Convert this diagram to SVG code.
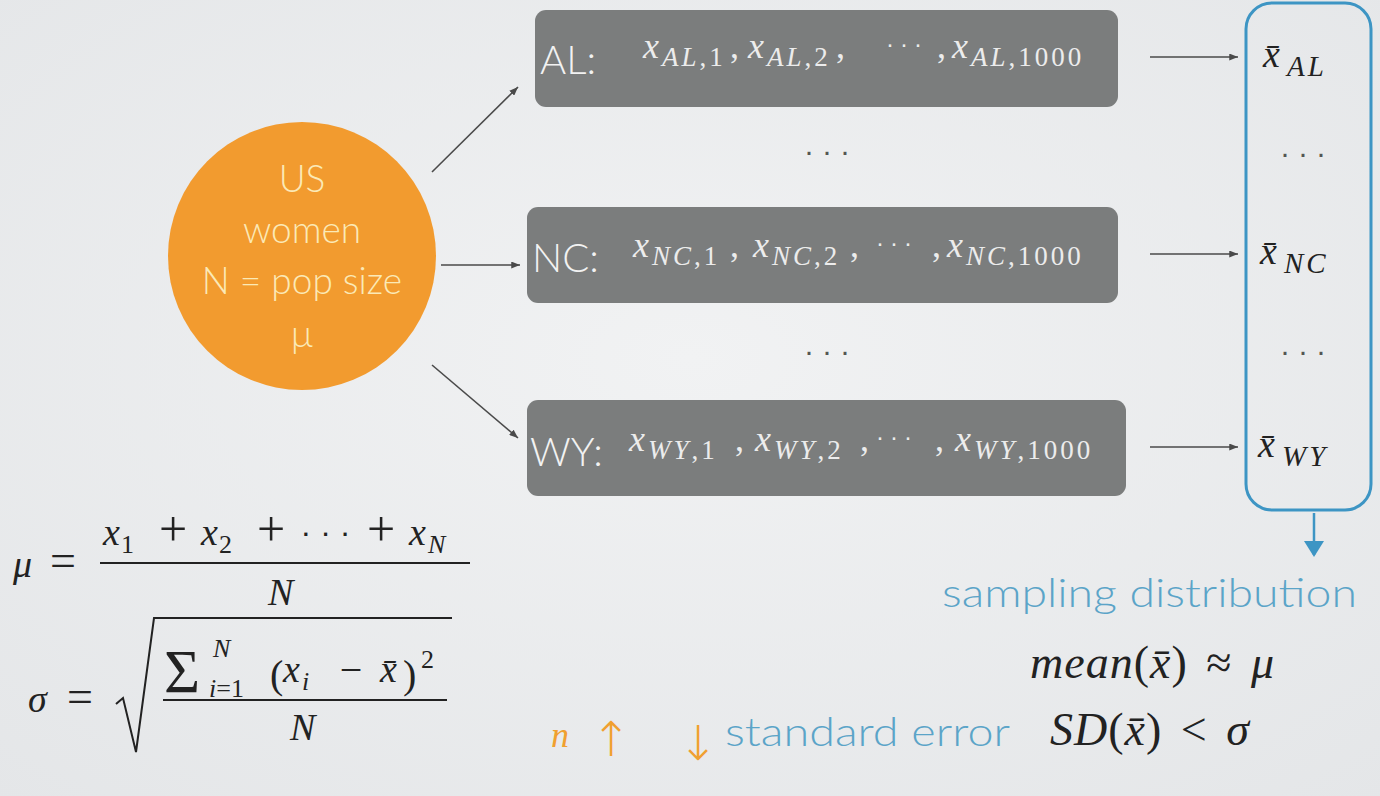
<svg xmlns="http://www.w3.org/2000/svg" width="1380" height="796" viewBox="0 0 1380 796">
<defs>
<radialGradient id="bg" cx="0.5" cy="0.45" r="0.75">
<stop offset="0" stop-color="#f1f2f3"/>
<stop offset="1" stop-color="#e4e6e8"/>
</radialGradient>
<marker id="ah" viewBox="0 0 10 8" refX="10" refY="4" markerWidth="9" markerHeight="7" markerUnits="userSpaceOnUse" orient="auto">
<path d="M0,0 L10,4 L0,8 z" fill="#4a4a4a"/>
</marker>
<marker id="bh" viewBox="0 0 16 20" refX="14" refY="10" markerWidth="16" markerHeight="20" markerUnits="userSpaceOnUse" orient="auto">
<path d="M0,0 L16,10 L0,20 z" fill="#3d95c4"/>
</marker>
</defs>
<style>
.box{fill:#7b7d7d}
.lbl{font-family:Lato,"Open Sans",sans-serif;font-weight:300;font-size:40px;fill:#f2f2f2}
.bx{font-family:"Liberation Serif",serif;font-style:italic;font-size:36px;fill:#ececec}
.bs{font-size:27px;letter-spacing:3px}
.up{font-style:normal}
.ct{font-family:Lato,"Open Sans",sans-serif;font-weight:300;font-size:37px;fill:#fbe9b6;text-anchor:middle}
.m{font-family:"Liberation Serif",serif;font-style:italic;font-size:38px;fill:#222}
.mu{font-family:"Liberation Serif",serif;font-style:normal;fill:#222}
.ms{font-size:26px}
.rs{font-size:29px;letter-spacing:3px}
.sum{font-size:46px;letter-spacing:1px;word-spacing:6px}
.dots{font-family:"Liberation Sans",sans-serif;font-size:30px;letter-spacing:8px;fill:#555;text-anchor:middle}
.bd{font-family:"Liberation Sans",sans-serif;font-style:normal;font-size:24px;letter-spacing:6px}
.blue{font-family:Lato,"Open Sans",sans-serif;font-weight:300;font-size:40px;fill:#5ba4c8}
.conn{stroke:#4a4a4a;stroke-width:1.6;fill:none;marker-end:url(#ah)}
</style>
<rect width="1380" height="796" fill="url(#bg)"/>

<g id="population">
<circle cx="302" cy="256" r="134" fill="#f29b2f"/>
<text class="ct" x="302" y="192">US</text>
<text class="ct" x="302" y="243">women</text>
<text class="ct" x="302" y="294">N = pop size</text>
<text class="ct" x="302" y="347" font-weight="400">μ</text>
</g>

<g id="sample-AL">
<rect class="box" x="535" y="10" width="583" height="97" rx="11"/>
<text class="lbl" x="540" y="74">AL:</text>
<text class="bx"><tspan x="643" y="58">x</tspan><tspan class="bs" x="662" y="66">AL<tspan class="up">,1</tspan></tspan><tspan class="up" x="730" y="58">,</tspan><tspan x="748" y="58">x</tspan><tspan class="bs" x="767" y="66">AL<tspan class="up">,2</tspan></tspan><tspan class="up" x="836" y="58">,</tspan><tspan class="bd" x="886" y="52">···</tspan><tspan class="up" x="937" y="58">,</tspan><tspan x="952" y="58">x</tspan><tspan class="bs" x="971" y="66">AL<tspan class="up">,1000</tspan></tspan></text>
</g>

<g id="sample-NC">
<rect class="box" x="527" y="207" width="591" height="96" rx="11"/>
<text class="lbl" x="532" y="272">NC:</text>
<text class="bx"><tspan x="633" y="257">x</tspan><tspan class="bs" x="652" y="265">NC<tspan class="up">,1</tspan></tspan><tspan class="up" x="730" y="257">,</tspan><tspan x="753" y="257">x</tspan><tspan class="bs" x="772" y="265">NC<tspan class="up">,2</tspan></tspan><tspan class="up" x="850" y="257">,</tspan><tspan class="bd" x="876" y="251">···</tspan><tspan class="up" x="932" y="257">,</tspan><tspan x="947" y="257">x</tspan><tspan class="bs" x="966" y="265">NC<tspan class="up">,1000</tspan></tspan></text>
</g>

<g id="sample-WY">
<rect class="box" x="527" y="400" width="599" height="96" rx="11"/>
<text class="lbl" x="530" y="466">WY:</text>
<text class="bx"><tspan x="629" y="451">x</tspan><tspan class="bs" x="648" y="459">WY<tspan class="up">,1</tspan></tspan><tspan class="up" x="735" y="451">,</tspan><tspan x="755" y="451">x</tspan><tspan class="bs" x="774" y="459">WY<tspan class="up">,2</tspan></tspan><tspan class="up" x="860" y="451">,</tspan><tspan class="bd" x="876" y="445">···</tspan><tspan class="up" x="935" y="451">,</tspan><tspan x="955" y="451">x</tspan><tspan class="bs" x="974" y="459">WY<tspan class="up">,1000</tspan></tspan></text>
</g>

<g id="gap-dots">
<text class="dots" x="831" y="161">···</text>
<text class="dots" x="831" y="361">···</text>
</g>

<g id="sampling-distribution">
<rect x="1246" y="3" width="125" height="507" rx="26" fill="none" stroke="#3d95c4" stroke-width="3"/>
<text class="m" x="1263" y="67" font-size="40">x̄<tspan class="rs" x="1287" y="76">AL</tspan></text>
<text class="dots" x="1307" y="163">···</text>
<text class="m" x="1260" y="264" font-size="40">x̄<tspan class="rs" x="1284" y="273">NC</tspan></text>
<text class="dots" x="1307" y="361">···</text>
<text class="m" x="1258" y="457" font-size="40">x̄<tspan class="rs" x="1282" y="466">WY</tspan></text>
</g>

<g id="connectors">
<line class="conn" x1="432" y1="172" x2="518" y2="87"/>
<line class="conn" x1="441" y1="265" x2="520" y2="265"/>
<line class="conn" x1="432" y1="365" x2="518" y2="438"/>
<line class="conn" x1="1150" y1="57" x2="1238" y2="57"/>
<line class="conn" x1="1150" y1="254" x2="1238" y2="254"/>
<line class="conn" x1="1150" y1="447" x2="1238" y2="447"/>
<line x1="1314" y1="513" x2="1314" y2="555" stroke="#3d95c4" stroke-width="2.5" marker-end="url(#bh)"/>
</g>

<g id="mean-formula">
<text class="m" x="13" y="577">μ</text>
<text class="mu" x="50" y="576" font-size="46">=</text>
<text class="m"><tspan x="103" y="545">x</tspan><tspan class="ms up" x="121" y="553">1</tspan><tspan class="up" x="173" y="546" font-size="50" text-anchor="middle">+</tspan><tspan x="201" y="545">x</tspan><tspan class="ms up" x="219" y="553">2</tspan><tspan class="up" x="271" y="546" font-size="50" text-anchor="middle">+</tspan><tspan class="up" x="330" y="543" font-family="Liberation Sans" font-size="32" letter-spacing="9" text-anchor="middle">···</tspan><tspan class="up" x="381" y="546" font-size="50" text-anchor="middle">+</tspan><tspan x="409" y="545">x</tspan><tspan class="ms" x="428" y="553">N</tspan></text>
<line x1="100" y1="563" x2="470" y2="563" stroke="#222" stroke-width="2"/>
<text class="m" x="268" y="605" font-size="42">N</text>
</g>

<g id="sd-formula">
<text class="m" x="28" y="712">σ</text>
<text class="mu" x="67" y="712" font-size="46">=</text>
<path d="M116,704 L123,698 L136,752 L154,618 H452" fill="none" stroke="#222" stroke-width="2"/>
<text class="mu" x="164" y="692" font-size="62">Σ</text>
<text class="m ms" x="213" y="657">N</text>
<text class="m ms" x="209" y="697">i<tspan class="up">=1</tspan></text>
<text class="m"><tspan class="up" x="270" y="688" font-size="40">(</tspan><tspan x="283" y="682">x</tspan><tspan class="ms" x="302" y="690">i</tspan><tspan class="up" x="351" y="683" font-size="40" text-anchor="middle">−</tspan><tspan x="380" y="682">x̄</tspan><tspan class="up" x="403" y="688" font-size="40">)</tspan><tspan class="ms up" x="421" y="668">2</tspan></text>
<line x1="163" y1="700" x2="447" y2="700" stroke="#222" stroke-width="2"/>
<text class="m" x="290" y="740" font-size="42">N</text>
</g>

<g id="summary">
<text class="blue" x="942" y="607" textLength="415" lengthAdjust="spacingAndGlyphs">sampling distribution</text>
<text class="m sum" x="1030" y="678">mean<tspan class="up">(</tspan>x̄<tspan class="up">) ≈ </tspan>μ</text>
<text class="m sum" x="1050" y="745">SD<tspan class="up">(</tspan>x̄<tspan class="up">) &lt; </tspan>σ</text>
<text x="551" y="747" font-family="'Liberation Serif',serif" font-style="italic" font-size="36" fill="#f0a030">n</text>
<text x="611" y="756" font-family="'DejaVu Sans',sans-serif" font-weight="200" font-size="48" fill="#f0a030" text-anchor="middle">↑</text>
<text x="698" y="760" font-family="'DejaVu Sans',sans-serif" font-weight="200" font-size="48" fill="#f0a030" text-anchor="middle">↓</text>
<text class="blue" x="725" y="746" textLength="285" lengthAdjust="spacingAndGlyphs">standard error</text>
</g>
</svg>
